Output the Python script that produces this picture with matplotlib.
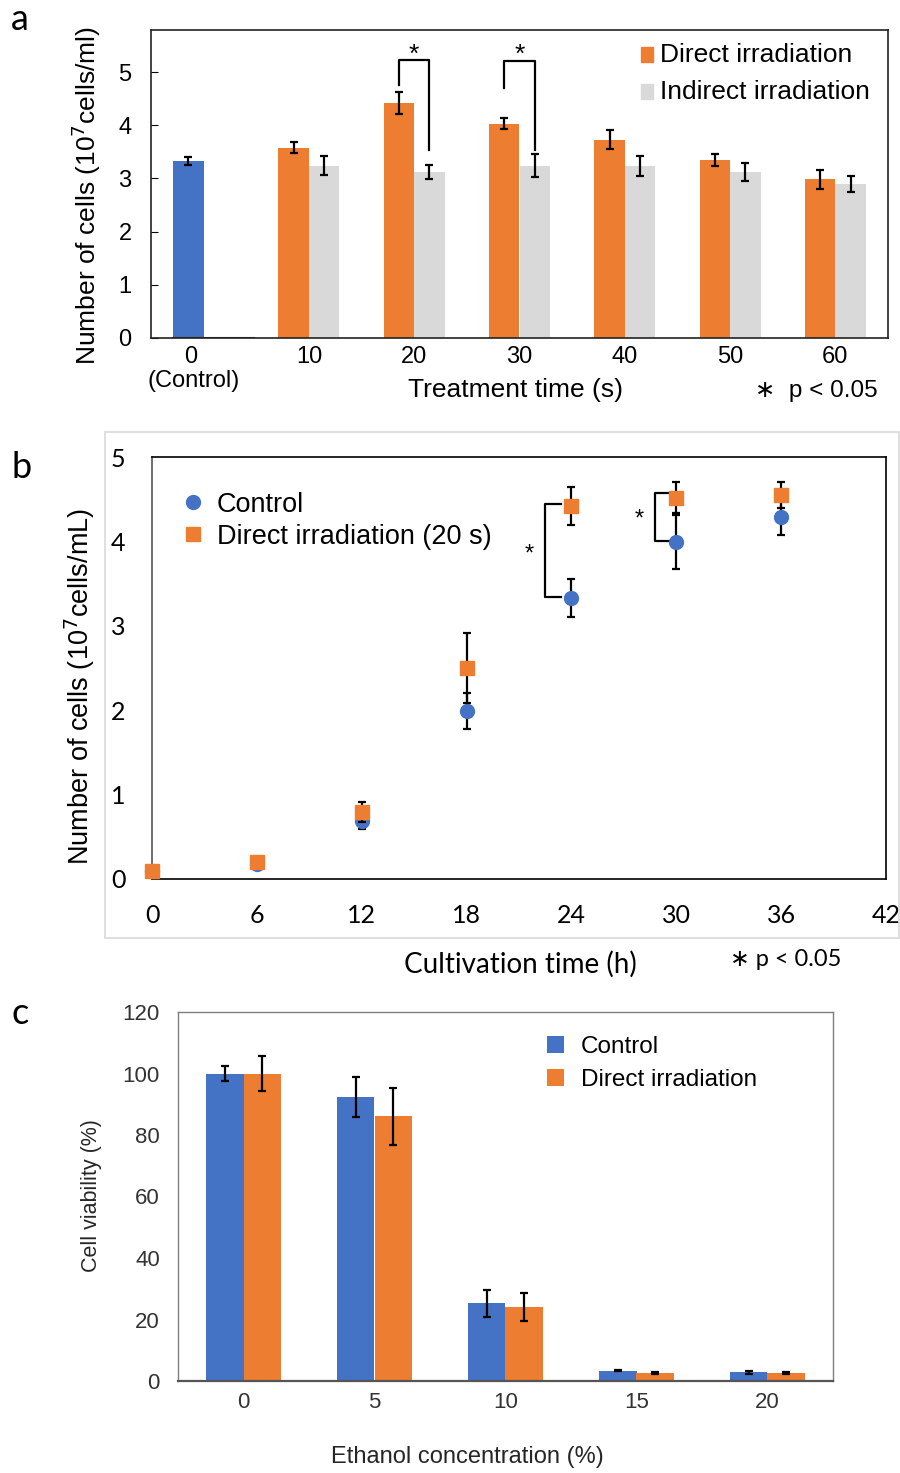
import matplotlib
matplotlib.use("Agg")
import matplotlib.pyplot as plt
from matplotlib.patches import Rectangle
from matplotlib.lines import Line2D

# couleurs type Excel
BLEU = "#4472C4"
ORANGE = "#ED7D31"
GRIS = "#D9D9D9"

# --- panneau a : nombre de cellules selon le temps de traitement
temps_a = ["0", "10", "20", "30", "40", "50", "60"]
direct_a = [3.33, 3.58, 4.42, 4.03, 3.73, 3.34, 2.98]   # le 1er = témoin (bleu)
direct_a_err = [0.07, 0.10, 0.21, 0.10, 0.18, 0.11, 0.18]
indirect_a = [0.0, 3.24, 3.12, 3.24, 3.24, 3.12, 2.90]
indirect_a_err = [0.0, 0.18, 0.14, 0.21, 0.19, 0.17, 0.15]

# --- panneau b : croissance
temps_b = [0, 6, 12, 18, 24, 30, 36]
temoin_b = [0.10, 0.18, 0.69, 1.99, 3.33, 3.99, 4.29]
temoin_b_err = [0.02, 0.02, 0.10, 0.21, 0.23, 0.32, 0.22]
direct_b = [0.10, 0.20, 0.79, 2.50, 4.42, 4.52, 4.55]
direct_b_err = [0.02, 0.03, 0.12, 0.41, 0.22, 0.18, 0.15]

# --- panneau c : viabilité vs éthanol
ethanol = ["0", "5", "10", "15", "20"]
temoin_c = [100.0, 92.4, 25.3, 3.4, 2.9]
temoin_c_err = [2.5, 6.4, 4.4, 0.3, 0.5]
direct_c = [100.0, 86.1, 24.0, 2.5, 2.5]
direct_c_err = [5.7, 9.2, 4.5, 0.3, 0.3]

W, H = 900, 1473
fig = plt.figure(figsize=(9, 14.73), dpi=100)

def cadre(g, h, d, b):
    # rectangle en pixels -> coordonnées figure
    return [g / W, 1 - b / H, (d - g) / W, (b - h) / H]

def px(x, y):
    return x / W, 1 - y / H

ARIAL = ["Liberation Sans", "DejaVu Sans"]
CALIBRI = ["Lato", "DejaVu Sans"]
ERR = dict(ecolor="black", elinewidth=1.6, capsize=3, capthick=1.6)

# ================= a =================
ax = fig.add_axes(cadre(151, 30, 888, 338))
n = len(temps_a)
larg = 0.29
xs = list(range(n))
couleurs = [BLEU] + [ORANGE] * (n - 1)
ax.bar([x - larg / 2 for x in xs], direct_a, larg, color=couleurs, yerr=direct_a_err, error_kw=ERR)
ax.bar([x + larg / 2 for x in xs[1:]], indirect_a[1:], larg, color=GRIS,
       yerr=indirect_a_err[1:], error_kw=ERR)
ax.plot([-larg, 0.48], [0.005, 0.005], color="#333333", lw=1.5)
ax.set_xlim(-0.5, n - 0.5)
ax.set_ylim(0, 5.79)
ax.set_yticks([0, 1, 2, 3, 4, 5])
ax.tick_params(axis="y", direction="in", length=5, labelsize=17, pad=14)
ax.set_xticks([-0.12] + xs[1:])
ax.set_xticklabels(temps_a, fontsize=17)
ax.tick_params(axis="x", length=0, pad=6)
for lab in ax.get_xticklabels() + ax.get_yticklabels():
    lab.set_fontfamily(ARIAL)
for s in ax.spines.values():
    s.set_color("#222222")
    s.set_linewidth(1.2)

# crochets de significativité
for i, haut, bas_g, bas_d in [(2, 5.23, 4.75, 3.54), (3, 5.20, 4.70, 3.54)]:
    xg, xd = i - larg / 2, i + larg / 2
    ax.plot([xg, xg, xd, xd], [bas_g, haut, haut, bas_d], color="black", lw=1.6)
    ax.text(i, 5.19, "*", ha="center", va="baseline", fontsize=19, fontfamily=ARIAL)

# légende a
ax.add_patch(Rectangle((0.665, 0.895), 0.016, 0.05, transform=ax.transAxes, color=ORANGE))
ax.add_patch(Rectangle((0.665, 0.775), 0.016, 0.05, transform=ax.transAxes, color=GRIS))
ax.text(0.69, 0.92, "Direct irradiation", transform=ax.transAxes, va="center",
        fontsize=19, fontfamily=ARIAL)
ax.text(0.69, 0.80, "Indirect irradiation", transform=ax.transAxes, va="center",
        fontsize=19, fontfamily=ARIAL)

fig.text(*px(194, 381), "(Control)", ha="center", va="center", fontsize=17, fontfamily=ARIAL)
fig.text(*px(515, 390), "Treatment time (s)", ha="center", va="center", fontsize=19, fontfamily=ARIAL)
fig.text(*px(816, 391), "\u2217  p < 0.05", ha="center", va="center", fontsize=17.5, fontfamily=ARIAL)
fig.text(*px(86, 196), "Number of cells (10$^7$cells/ml)", rotation=90, ha="center", va="center",
         fontsize=19, fontfamily=ARIAL)
fig.text(*px(20, 20), "a", ha="center", va="center", fontsize=26, fontfamily=CALIBRI)

# ================= b =================
fig.patches.append(Rectangle(px(105, 938), (899 - 105) / W, (938 - 432) / H,
                             transform=fig.transFigure, fill=False, edgecolor="#D9D9D9", lw=1.2))
ax = fig.add_axes(cadre(152, 457, 886, 879))
for y, e, mk, c, z in [(temoin_b, temoin_b_err, "o", BLEU, 3), (direct_b, direct_b_err, "s", ORANGE, 4)]:
    conteneur = ax.errorbar(temps_b, y, yerr=e, fmt=mk, color=c, ms=10, zorder=z, **ERR)
    conteneur.lines[0].set_clip_on(False)
ax.set_xlim(0, 42)
ax.set_ylim(0, 5)
ax.set_xticks(range(0, 43, 6))
ax.set_yticks(range(0, 6))
ax.tick_params(length=0, labelsize=18)
ax.tick_params(axis="x", pad=18)
ax.tick_params(axis="y", pad=19)
for lab in ax.get_xticklabels() + ax.get_yticklabels():
    lab.set_fontfamily(CALIBRI)
for s in ax.spines.values():
    s.set_color("black")
    s.set_linewidth(1.2)
ax.spines["left"].set_color("#555555")

# crochets b
for xb, haut, bas, xe, ys in [(22.5, 4.44, 3.34, 23.4, 3.85), (28.8, 4.57, 4.00, 29.6, 4.26)]:
    ax.plot([xe, xb, xb, xe], [haut, haut, bas, bas], color="black", lw=1.6)
    ax.text(xb - 0.9, ys, "*", ha="center", va="center", fontsize=17, fontfamily=ARIAL)

poignees = [Line2D([], [], marker="o", ls="none", color=BLEU, ms=10),
            Line2D([], [], marker="s", ls="none", color=ORANGE, ms=10)]
ax.legend(poignees, ["Control", "Direct irradiation (20 s)"], loc="upper left",
          bbox_to_anchor=(0.0, 0.975), frameon=False, prop=dict(family=ARIAL, size=19.5),
          handletextpad=0.3, labelspacing=0.22, handlelength=1.2)

fig.text(*px(520, 964), "Cultivation time (h)", ha="center", va="center", fontsize=20, fontfamily=CALIBRI)
fig.text(*px(786, 960), "\u2217 p < 0.05", ha="center", va="center", fontsize=17, fontfamily=CALIBRI)
fig.text(*px(80, 686), "Number of cells (10$^7$cells/mL)", rotation=90, ha="center", va="center",
         fontsize=19.5, fontfamily=ARIAL)
fig.text(*px(22, 467), "b", ha="center", va="center", fontsize=26, fontfamily=CALIBRI)

# ================= c =================
ax = fig.add_axes(cadre(178, 1012, 833, 1381))
m = len(ethanol)
lc = 0.285
xc = list(range(m))
ax.bar([x - lc / 2 for x in xc], temoin_c, lc, color=BLEU, label="Control",
       yerr=temoin_c_err, error_kw=ERR)
ax.bar([x + lc / 2 for x in xc], direct_c, lc, color=ORANGE, label="Direct irradiation",
       yerr=direct_c_err, error_kw=ERR)
ax.set_xlim(-0.5, m - 0.5)
ax.set_ylim(0, 120)
ax.set_yticks(range(0, 121, 20))
ax.set_xticks(xc)
ax.set_xticklabels(ethanol)
ax.tick_params(length=0, labelsize=16, colors="#333333")
ax.tick_params(axis="y", pad=13)
ax.tick_params(axis="x", pad=8)
for lab in ax.get_xticklabels() + ax.get_yticklabels():
    lab.set_fontfamily(ARIAL)
for s in ax.spines.values():
    s.set_color("#7F7F7F")
    s.set_linewidth(1.0)
ax.spines["bottom"].set_color("#555555")
ax.spines["bottom"].set_linewidth(1.6)
ax.legend(loc="upper left", bbox_to_anchor=(0.53, 0.995), frameon=False,
          prop=dict(family=ARIAL, size=17.5), handlelength=0.7, handleheight=0.7,
          handletextpad=0.7, labelspacing=0.45)

fig.text(*px(467, 1457), "Ethanol concentration (%)", ha="center", va="center", fontsize=17,
         fontfamily=ARIAL, color="#262626")
fig.text(*px(92, 1196), "Cell viability (%)", rotation=90, ha="center", va="center",
         fontsize=15.5, fontfamily=ARIAL, color="#262626")
fig.text(*px(20, 1013), "c", ha="center", va="center", fontsize=26, fontfamily=CALIBRI)

fig.savefig("out.png", dpi=100, facecolor="white")
